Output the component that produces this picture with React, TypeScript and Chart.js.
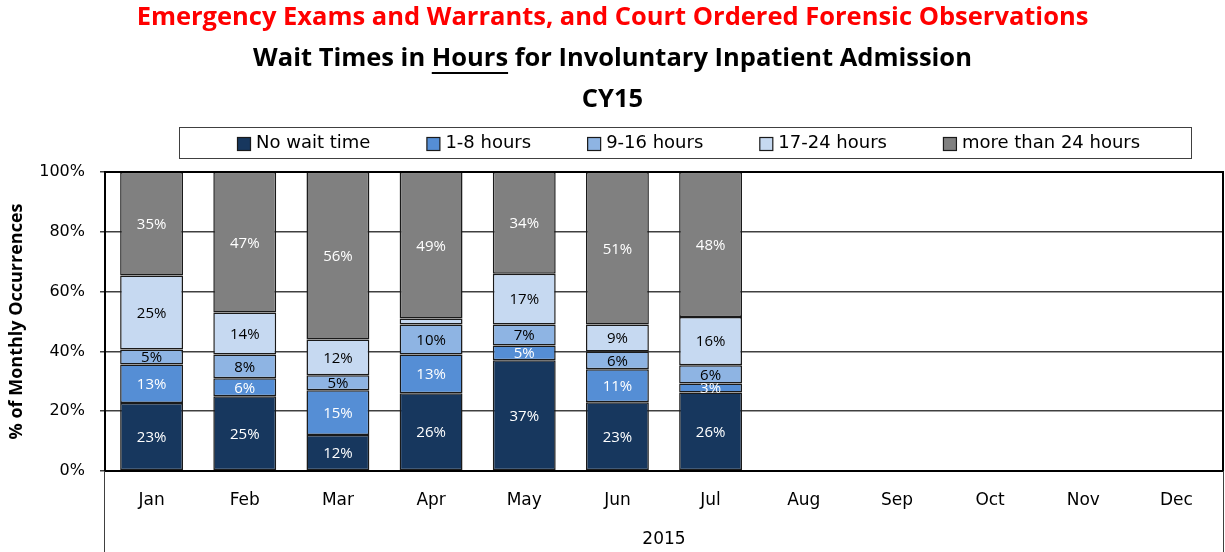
import React, { useEffect, useRef } from "react";
import { Chart, registerables } from "chart.js";

Chart.register(...registerables);

const months = ["Jan", "Feb", "Mar", "Apr", "May", "Jun", "Jul", "Aug", "Sep", "Oct", "Nov", "Dec"];
const noWait = [23, 25, 12, 26, 37, 23, 26, null, null, null, null, null];
const hours1to8 = [13, 6, 15, 13, 5, 11, 3, null, null, null, null, null];
const hours9to16 = [5, 8, 5, 10, 7, 6, 6, null, null, null, null, null];
const hours17to24 = [25, 14, 12, 2, 17, 9, 16, null, null, null, null, null];
const over24 = [35, 47, 56, 49, 34, 51, 48, null, null, null, null, null];

const seriesNames = ["No wait time", "1-8 hours", "9-16 hours", "17-24 hours", "more than 24 hours"];
const seriesValues = [noWait, hours1to8, hours9to16, hours17to24, over24];
const seriesColors = ["#17375E", "#558ED5", "#8EB4E3", "#C6D9F1", "#808080"];
const labelColors = ["#ffffff", "#ffffff", "#000000", "#000000", "#ffffff"];

const titleLine1 = "Emergency Exams and Warrants, and Court Ordered Forensic Observations";
const titleLine2 = ["Wait Times in ", "Hours", " for Involuntary Inpatient Admission"];
const titleLine3 = "CY15";
const yTitle = "% of Monthly Occurrences";
const xTitle = "2015";
const yTicks = [0, 20, 40, 60, 80, 100];

const TITLE_FONT = "'Open Sans', 'Noto Sans', sans-serif";
const AXIS_FONT = "'DejaVu Sans', sans-serif";
const LABEL_FONT = "'Open Sans', 'Noto Sans', sans-serif";

// totals per month, used to scale each stack to 100%
const totals = months.map((_, i) => seriesValues.reduce((s, arr) => s + (arr[i] ?? 0), 0));

const decorPlugin = {
  id: "decor",
  afterDatasetsDraw(chart: any) {
    const ctx = chart.ctx;
    ctx.save();
    ctx.font = `15px ${LABEL_FONT}`;
    ctx.textAlign = "center";
    ctx.textBaseline = "middle";
    chart.data.datasets.forEach((ds: any, di: number) => {
      const meta = chart.getDatasetMeta(di);
      meta.data.forEach((el: any, i: number) => {
        const raw = ds.rawValues[i];
        if (raw == null || raw < 3) return;
        ctx.fillStyle = ds.labelColor;
        ctx.fillText(raw + "%", el.x, (el.y + el.base) / 2 + 1);
      });
    });
    ctx.restore();
  },
  afterDraw(chart: any) {
    const ctx = chart.ctx;
    const a = chart.chartArea;
    const cx = chart.width / 2;
    ctx.save();
    // plot border
    ctx.strokeStyle = "#000";
    ctx.lineWidth = 2;
    ctx.strokeRect(a.left, a.top, a.right - a.left, a.bottom - a.top);
    // category box side lines
    ctx.strokeStyle = "#404040";
    ctx.lineWidth = 1;
    ctx.beginPath();
    ctx.moveTo(a.left - 0.5, a.bottom);
    ctx.lineTo(a.left - 0.5, chart.height);
    ctx.moveTo(a.right + 0.5, a.bottom);
    ctx.lineTo(a.right + 0.5, chart.height);
    ctx.stroke();

    // titles
    ctx.textBaseline = "middle";
    ctx.textAlign = "center";
    ctx.font = `bold 25.5px ${TITLE_FONT}`;
    ctx.fillStyle = "#ff0000";
    ctx.fillText(titleLine1, cx, 18);
    ctx.fillStyle = "#000";
    const w = titleLine2.map((t) => ctx.measureText(t).width);
    const total = w.reduce((s, v) => s + v, 0);
    let x = cx - total / 2;
    ctx.textAlign = "left";
    titleLine2.forEach((t, i) => {
      ctx.fillText(t, x, 59);
      if (i === 1) {
        ctx.fillRect(x, 72, w[i], 2);
      }
      x += w[i];
    });
    ctx.textAlign = "center";
    ctx.fillText(titleLine3, cx, 100);

    // legend
    const bx = 179, by = 127, bw = 1012, bh = 31;
    ctx.strokeStyle = "#404040";
    ctx.lineWidth = 1;
    ctx.strokeRect(bx + 0.5, by + 0.5, bw, bh);
    ctx.font = `18px ${AXIS_FONT}`;
    const box = 13, gapBox = 6, gapItem = 56;
    const items = chart.data.datasets.map((ds: any) => ({
      label: ds.label,
      color: ds.backgroundColor,
      tw: ctx.measureText(ds.label).width,
    }));
    const totalW = items.reduce((s: number, it: any) => s + box + gapBox + it.tw, 0) + gapItem * (items.length - 1);
    let lx = Math.round(bx + bw / 2 + 4 - totalW / 2);
    const ly = by + bh / 2 + 1;
    ctx.textAlign = "left";
    items.forEach((it: any) => {
      ctx.fillStyle = it.color;
      ctx.fillRect(lx + 0.5, Math.round(ly - box / 2) + 0.5, box, box);
      ctx.strokeStyle = "#1a1a1a";
      ctx.lineWidth = 1.2;
      ctx.strokeRect(lx + 0.5, Math.round(ly - box / 2) + 0.5, box, box);
      ctx.fillStyle = "#000";
      ctx.fillText(it.label, lx + box + gapBox, ly);
      lx += box + gapBox + it.tw + gapItem;
    });
    ctx.restore();
  },
};

export default function App() {
  const ref = useRef<HTMLCanvasElement | null>(null);
  useEffect(() => {
    document.body.style.margin = "0";
    const canvas = ref.current!;
    const chart = new Chart(canvas, {
      type: "bar",
      data: {
        labels: months,
        datasets: seriesNames.map((name, si) => ({
          label: name,
          data: seriesValues[si].map((v, i) => (v == null ? null : (v / totals[i]) * 100)),
          rawValues: seriesValues[si],
          labelColor: labelColors[si],
          backgroundColor: seriesColors[si],
          borderColor: "#1a1a1a",
          borderWidth: 1.5,
          borderSkipped: false,
          barPercentage: 0.675,
          categoryPercentage: 1,
        })) as any,
      },
      options: {
        animation: false,
        responsive: false,
        maintainAspectRatio: false,
        layout: { padding: { top: 172, left: 0, right: 2, bottom: 0 } },
        plugins: {
          legend: { display: false },
          title: { display: false },
          tooltip: { enabled: false },
        },
        scales: {
          x: {
            stacked: true,
            grid: { display: false, drawTicks: false },
            border: { display: false },
            ticks: { color: "#000", font: { family: AXIS_FONT, size: 17 }, padding: 19 },
            title: {
              display: true,
              text: xTitle,
              color: "#000",
              font: { family: AXIS_FONT, size: 17 },
              padding: { top: 0, bottom: 2 },
            },
            afterFit: (s: any) => {
              s.height = 81;
            },
          },
          y: {
            stacked: true,
            min: 0,
            max: 100,
            afterBuildTicks: (s: any) => {
              s.ticks = yTicks.map((v) => ({ value: v }));
            },
            ticks: {
              color: "#000",
              font: { family: AXIS_FONT, size: 16 },
              padding: 15,
              callback: (v: any) => v + "%",
            },
            grid: { color: "#404040", lineWidth: 1.5, tickLength: 5 },
            border: { display: false },
            title: {
              display: true,
              text: yTitle,
              color: "#000",
              font: { family: TITLE_FONT, size: 18, weight: "bold" },
              padding: { top: 6, bottom: 0 },
            },
            afterFit: (s: any) => {
              s.width = 105;
            },
          },
        },
      } as any,
      plugins: [decorPlugin],
    });
    return () => chart.destroy();
  }, []);
  return <canvas ref={ref} width={1225} height={552} style={{ display: "block" }} />;
}
